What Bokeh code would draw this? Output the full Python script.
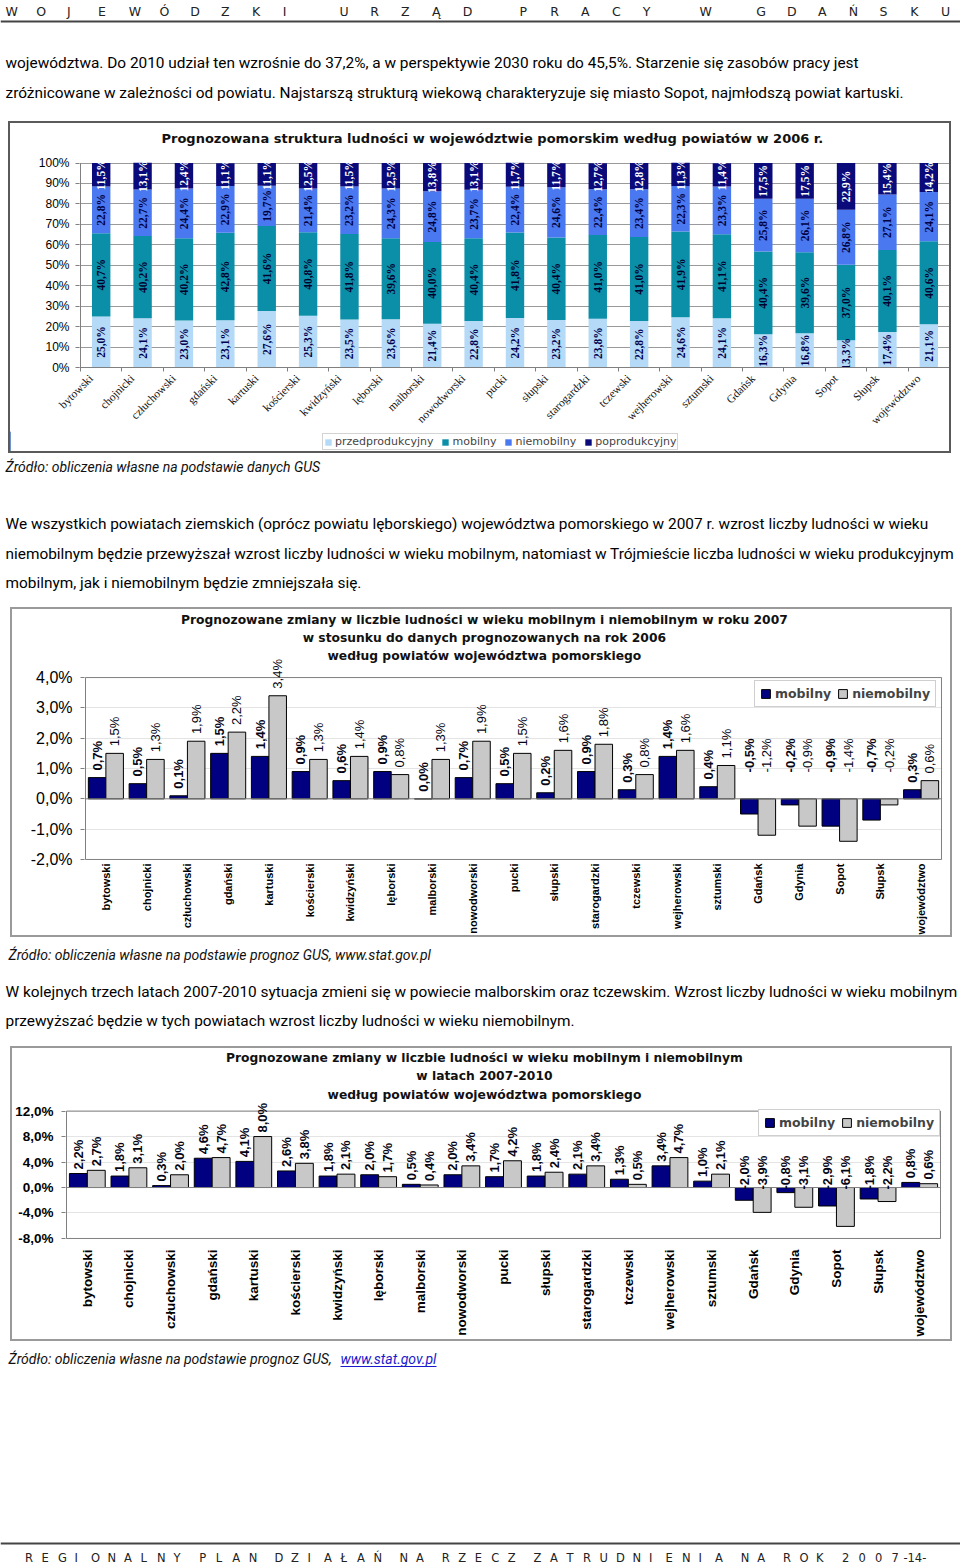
import math
import numpy as np
from bokeh.plotting import figure
from bokeh.models import (Range1d, FixedTicker, ColumnDataSource, LabelSet,
                          Legend, LegendItem)
from bokeh.core.properties import value
from bokeh.embed import file_html
from bokeh.resources import INLINE

PAGE_W = 960

# ---------------- texts ----------------
header_text = "WOJEWÓDZKI URZĄD PRACY W GDAŃSKU"
footer_text = "REGIONALNY PLAN DZIAŁAŃ NA RZECZ ZATRUDNIENIA NA ROK 2007"
footer_page = "-14-"

para1 = [
    "województwa. Do 2010 udział ten wzrośnie do 37,2%, a w perspektywie 2030 roku do 45,5%. Starzenie się zasobów pracy jest",
    "zróżnicowane w zależności od powiatu. Najstarszą strukturą wiekową charakteryzuje się miasto Sopot, najmłodszą powiat kartuski.",
]
para2 = [
    "We wszystkich powiatach ziemskich (oprócz powiatu lęborskiego) województwa pomorskiego w 2007 r. wzrost liczby ludności w wieku",
    "niemobilnym będzie przewyższał wzrost liczby ludności w wieku mobilnym, natomiast w Trójmieście liczba ludności w wieku produkcyjnym",
    "mobilnym, jak i niemobilnym będzie zmniejszała się.",
]
para3 = [
    "W kolejnych trzech latach 2007-2010 sytuacja zmieni się w powiecie malborskim oraz tczewskim. Wzrost liczby ludności w wieku mobilnym",
    "przewyższać będzie w tych powiatach wzrost liczby ludności w wieku niemobilnym.",
]
source1 = "Źródło: obliczenia własne na podstawie danych GUS"
source2 = "Źródło: obliczenia własne na podstawie prognoz GUS, www.stat.gov.pl"
source3_prefix = "Źródło: obliczenia własne na podstawie prognoz GUS,"
source3_link = "www.stat.gov.pl"

title1 = "Prognozowana struktura ludności w województwie pomorskim według powiatów w 2006 r."
title2 = ["Prognozowane zmiany w liczbie ludności w wieku mobilnym i niemobilnym w roku 2007",
          "w stosunku do danych prognozowanych na rok 2006",
          "według powiatów województwa pomorskiego"]
title3 = ["Prognozowane zmiany w liczbie ludności w wieku mobilnym i niemobilnym",
          "w latach 2007-2010",
          "według powiatów województwa pomorskiego"]

# ---------------- data ----------------
categories = ["bytowski", "chojnicki", "człuchowski", "gdański", "kartuski", "kościerski",
              "kwidzyński", "lęborski", "malborski", "nowodworski", "pucki", "słupski",
              "starogardzki", "tczewski", "wejherowski", "sztumski", "Gdańsk", "Gdynia",
              "Sopot", "Słupsk", "województwo"]

series1_names = ["przedprodukcyjny", "mobilny", "niemobilny", "poprodukcyjny"]
przedprodukcyjny = [25.0, 24.1, 23.0, 23.1, 27.6, 25.3, 23.5, 23.6, 21.4, 22.8, 24.2,
                    23.2, 23.8, 22.8, 24.6, 24.1, 16.3, 16.8, 13.3, 17.4, 21.1]
mobilny_2006 = [40.7, 40.2, 40.2, 42.8, 41.6, 40.8, 41.8, 39.6, 40.0, 40.4, 41.8,
                40.4, 41.0, 41.0, 41.9, 41.1, 40.4, 39.6, 37.0, 40.1, 40.6]
niemobilny_2006 = [22.8, 22.7, 24.4, 22.9, 19.7, 21.4, 23.2, 24.3, 24.8, 23.7, 22.4,
                   24.6, 22.4, 23.4, 22.3, 23.3, 25.8, 26.1, 26.8, 27.1, 24.1]
poprodukcyjny = [11.5, 13.1, 12.4, 11.1, 11.1, 12.5, 11.5, 12.5, 13.8, 13.1, 11.7,
                 11.7, 12.7, 12.8, 11.3, 11.4, 17.5, 17.5, 22.9, 15.4, 14.2]

series2_names = ["mobilny", "niemobilny"]
mobilny_2007 = [0.7, 0.5, 0.1, 1.5, 1.4, 0.9, 0.6, 0.9, 0.0, 0.7, 0.5,
                0.2, 0.9, 0.3, 1.4, 0.4, -0.5, -0.2, -0.9, -0.7, 0.3]
niemobilny_2007 = [1.5, 1.3, 1.9, 2.2, 3.4, 1.3, 1.4, 0.8, 1.3, 1.9, 1.5,
                   1.6, 1.8, 0.8, 1.6, 1.1, -1.2, -0.9, -1.4, -0.2, 0.6]

mobilny_2010 = [2.2, 1.8, 0.3, 4.6, 4.1, 2.6, 1.8, 2.0, 0.5, 2.0, 1.7,
                1.8, 2.1, 1.3, 3.4, 1.0, -2.0, -0.8, -2.9, -1.8, 0.8]
niemobilny_2010 = [2.7, 3.1, 2.0, 4.7, 8.0, 3.8, 2.1, 1.7, 0.4, 3.4, 4.2,
                   2.4, 3.4, 0.5, 4.7, 2.1, -3.9, -3.1, -6.1, -2.2, 0.6]

y1_ticks = [0, 10, 20, 30, 40, 50, 60, 70, 80, 90, 100]
y1_labels = ["0%", "10%", "20%", "30%", "40%", "50%", "60%", "70%", "80%", "90%", "100%"]
y2_ticks = [-2, -1, 0, 1, 2, 3, 4]
y2_labels = ["-2,0%", "-1,0%", "0,0%", "1,0%", "2,0%", "3,0%", "4,0%"]
y3_ticks = [-8, -4, 0, 4, 8, 12]
y3_labels = ["-8,0%", "-4,0%", "0,0%", "4,0%", "8,0%", "12,0%"]

NCAT = len(categories)


def fmt(v):
    return f"{v:.1f}".replace(".", ",") + "%"


def box_styles(color, sides):
    st = {"box-sizing": "content-box"}
    for s in ("top", "right", "bottom", "left"):
        st[f"border-{s}"] = f"2px solid {color}" if s in sides else "none"
    return st


# ---------------- helpers ----------------
def text_fig(h):
    p = figure(width=PAGE_W, height=h, x_range=Range1d(0, PAGE_W), y_range=Range1d(h, 0),
               x_axis_type=None, y_axis_type=None, output_backend="svg",
               toolbar_location=None, min_border=0, title=None)
    p.outline_line_color = None
    p.background_fill_color = "white"
    p.border_fill_color = "white"
    return p


def add_text(p, x, y, text, font="Roboto", size="15.4px", style="normal",
             color="#000000", align="left"):
    return p.text(x=[x], y=[y], text=[text], text_font=value(font), text_font_size=size,
                  text_font_style=style, text_color=color, text_align=align,
                  text_baseline="middle")


def spaced(p, s, x0, y, pitch, gap, size, font="DejaVu Sans", color="#222222"):
    xs, chars = [], []
    x = x0
    for ch in s:
        if ch == " ":
            x += gap
            continue
        xs.append(x)
        chars.append(ch)
        x += pitch
    p.text(x=xs, y=[y] * len(xs), text=chars, text_font=value(font), text_font_size=size,
           text_color=color, text_align="left", text_baseline="middle")
    return x


def chart_fig(cw, ch, pa, yr, ft, box_left, styles, expand_bottom=True):
    """cw x ch canvas inside a CSS border; pa = plot area (l, r, t, b) in canvas px."""
    pl, pr, pt, pb = pa
    fl = pl - 1
    fr = pr + 1
    fb = pb + 1 if expand_bottom else pb
    xppu = (pr - pl) / NCAT
    yppu = (pb - pt) / (yr[1] - yr[0])
    x_lo = -0.5 - (pl - fl) / xppu
    x_hi = NCAT - 0.5 + (fr - pr) / xppu
    y_lo = yr[0] - (fb - pb) / yppu
    y_hi = yr[1] + (pt - ft) / yppu
    p = figure(width=cw, height=ch, x_range=Range1d(x_lo, x_hi), y_range=Range1d(y_lo, y_hi),
               min_border_left=fl, min_border_right=cw - fr, min_border_top=ft,
               min_border_bottom=ch - fb, output_backend="svg", toolbar_location=None,
               title=None, margin=(0, 0, 0, box_left), styles=styles)
    p.background_fill_color = "white"
    p.border_fill_color = "white"
    p.outline_line_color = None

    def dx(cx):
        return -0.5 + (cx - pl) / xppu

    def dy(cy):
        return yr[1] - (cy - pt) / yppu

    return p, dx, dy, yppu, fl, fb


def chart_titles(p, dx, dy, cx, ys, lines, size):
    p.text(x=[dx(cx)] * len(lines), y=[dy(v) for v in ys], text=lines,
           text_align="center", text_baseline="middle", text_font=value("DejaVu Sans"),
           text_font_style="bold", text_font_size=size, text_color="#111111")


# ---------------- S1: header + paragraph (page y 0..121) ----------------
s1 = text_fig(121)
spaced(s1, header_text, 5, 11, 30.8, 26, "12.5px")
s1.line(x=[0, PAGE_W], y=[21, 21], line_color="#444444", line_width=2)
add_text(s1, 5, 62, para1[0])
add_text(s1, 5, 92, para1[1])

# ---------------- C1: chart 1 (page y 121..431) + legend strip (431..453) ----------------
BOX1 = "#5a5a5a"
c1, dx1, dy1, ppu1, fl1, fb1 = chart_fig(939, 308, (70, 935, 40, 247), (0, 100), 2, 8,
                                         box_styles(BOX1, ("top", "left", "right")),
                                         expand_bottom=False)
x = np.arange(NCAT)
cols1 = ["#B4DAF7", "#0B8FA8", "#4A78F0", "#0A0A7A"]
lab_cols1 = ["#000050", "#00002E", "#000040", "#FFFFFF"]
vals1 = [przedprodukcyjny, mobilny_2006, niemobilny_2006, poprodukcyjny]
src1 = ColumnDataSource(dict(x=x, s0=przedprodukcyjny, s1=mobilny_2006,
                             s2=niemobilny_2006, s3=poprodukcyjny))
rend1 = c1.vbar_stack(["s0", "s1", "s2", "s3"], x="x", width=0.445, color=cols1,
                      line_color=None, source=src1)
bottom = np.zeros(NCAT)
for vals, lc in zip(vals1, lab_cols1):
    v = np.array(vals)
    mids = bottom + v / 2.0
    c1.text(x=x, y=mids, text=[fmt(a) for a in v], angle=math.pi / 2,
            text_align="center", text_baseline="middle",
            text_font=value("Liberation Serif"), text_font_style="bold",
            text_font_size="11.5px", text_color=lc)
    bottom = bottom + v
c1.segment(x0=[-0.5], y0=[0], x1=[-0.5], y1=[100], line_color="#808080", line_width=1)

c1.yaxis.ticker = FixedTicker(ticks=y1_ticks)
c1.yaxis.major_label_overrides = dict(zip(y1_ticks, y1_labels))
c1.yaxis.major_label_text_font = "Liberation Sans"
c1.yaxis.major_label_text_font_size = "12px"
c1.yaxis.major_label_text_color = "#000000"
c1.yaxis.axis_line_color = None
c1.yaxis.major_tick_line_color = "#808080"
c1.yaxis.major_tick_out = 4
c1.yaxis.major_tick_in = 0
c1.yaxis.major_label_standoff = 6

c1.xaxis.ticker = FixedTicker(ticks=[i - 0.25 for i in range(NCAT)],
                              minor_ticks=[i - 0.5 for i in range(NCAT + 1)])
c1.xaxis.major_label_overrides = {i - 0.25: c for i, c in enumerate(categories)}
c1.xaxis.major_label_orientation = math.pi / 4
c1.xaxis.major_label_text_font = "Liberation Serif"
c1.xaxis.major_label_text_font_size = "11.5px"
c1.xaxis.major_label_text_color = "#111111"
c1.xaxis.major_label_standoff = 5
c1.xaxis.major_tick_line_color = None
c1.xaxis.major_tick_out = 0
c1.xaxis.major_tick_in = 0
c1.xaxis.minor_tick_line_color = "#808080"
c1.xaxis.minor_tick_out = 4
c1.xaxis.minor_tick_in = 0
c1.xaxis.axis_line_color = "#808080"
c1.xgrid.visible = False
c1.ygrid.grid_line_color = "#9a9a9a"
c1.ygrid.ticker = FixedTicker(ticks=y1_ticks[1:])
chart_titles(c1, dx1, dy1, 480, [15], [title1], "13px")

# legend strip, inside the same chart box (key renderers sit outside its visible range)
lg1 = figure(width=939, height=20, x_range=Range1d(0, 1), y_range=Range1d(0, 1),
             x_axis_type=None, y_axis_type=None, output_backend="svg",
             toolbar_location=None, min_border=0, title=None, margin=(0, 0, 0, 8),
             styles=box_styles(BOX1, ("bottom", "left", "right")))
lg1.outline_line_color = None
lg1.background_fill_color = "white"
lg1.border_fill_color = "white"
key_rend = [lg1.vbar(x=[-5], top=[1], width=0.1, fill_color=c, line_color=None)
            for c in cols1]
leg1 = Legend(items=[LegendItem(label=n, renderers=[r]) for n, r in zip(series1_names, key_rend)],
              orientation="horizontal", location=(312, 3),
              label_text_font="DejaVu Sans", label_text_font_size="11px",
              glyph_width=8, glyph_height=8, label_height=10, label_standoff=3,
              spacing=8, padding=1, margin=0, border_line_color="#a8a8a8",
              background_fill_color="white", background_fill_alpha=1)
lg1.add_layout(leg1)

# ---------------- S3: source + paragraph (page y 453..607) ----------------
s3 = text_fig(154)
add_text(s3, 5, 13, source1, style="italic", size="14px", color="#111111")
add_text(s3, 5, 70, para2[0])
add_text(s3, 5, 100, para2[1])
add_text(s3, 5, 129, para2[2])


# ---------------- grouped bar chart helper ----------------
def grouped(cw, ch, pa, yr, ft, mob, niem, yt, ylab, ysize, ystyle, xsize, xstandoff,
            pos_gap, neg_y_px, mob_style, niem_style, tcx, tys, tlines, legend_box):
    p, dx, dy, ppu, fl, fb = chart_fig(cw, ch, pa, yr, ft, 10,
                                       box_styles("#9a9a9a", ("top", "right", "bottom", "left")))
    xs = np.arange(NCAT)
    m = np.array(mob)
    n = np.array(niem)
    p.quad(left=[-0.5], right=[NCAT - 0.5], bottom=[yr[0]], top=[yr[1]],
           fill_color=None, line_color="#808080", line_width=1)
    rm = p.vbar(x=xs - 0.215, top=m, width=0.43, fill_color="#000080",
                line_color="#000000", line_width=1)
    rn = p.vbar(x=xs + 0.215, top=n, width=0.43, fill_color="#C8C8C8",
                line_color="#000000", line_width=1)
    p.segment(x0=[-0.5], y0=[0], x1=[NCAT - 0.5], y1=[0], line_color="#808080",
              line_width=1)
    for off, vals, st in ((-0.215, m, mob_style), (0.215, n, niem_style)):
        ly = np.where(vals >= 0, vals + pos_gap / ppu, neg_y_px / ppu)
        ls = ColumnDataSource(dict(x=xs + off, y=ly, t=[fmt(a) for a in vals]))
        p.add_layout(LabelSet(x="x", y="y", text="t", source=ls, angle=math.pi / 2,
                              text_align="left", text_baseline="middle",
                              text_font=value("Liberation Sans"), text_font_style=st,
                              text_font_size="13px", text_color="#050515"))
    p.yaxis.ticker = FixedTicker(ticks=yt)
    p.yaxis.major_label_overrides = dict(zip(yt, ylab))
    p.yaxis.major_label_text_font = "Liberation Sans"
    p.yaxis.major_label_text_font_size = ysize
    p.yaxis.major_label_text_font_style = ystyle
    p.yaxis.major_label_text_color = "#000000"
    p.yaxis.axis_line_color = None
    p.yaxis.major_tick_line_color = "#808080"
    p.yaxis.major_tick_out = 4
    p.yaxis.major_tick_in = 0
    p.yaxis.major_label_standoff = 8

    p.xaxis.ticker = FixedTicker(ticks=list(range(NCAT)))
    p.xaxis.major_label_overrides = {i: c for i, c in enumerate(categories)}
    p.xaxis.major_label_orientation = math.pi / 2
    p.xaxis.major_label_text_font = "Liberation Sans"
    p.xaxis.major_label_text_font_style = "bold"
    p.xaxis.major_label_text_font_size = xsize
    p.xaxis.major_label_text_color = "#000000"
    p.xaxis.major_label_standoff = xstandoff
    p.xaxis.major_tick_line_color = None
    p.xaxis.major_tick_out = 0
    p.xaxis.major_tick_in = 0
    p.xaxis.axis_line_color = None
    p.xgrid.visible = False
    p.ygrid.grid_line_color = "#e4e4e4"

    lx, lbot = legend_box
    leg = Legend(items=[LegendItem(label=series2_names[0], renderers=[rm]),
                        LegendItem(label=series2_names[1], renderers=[rn])],
                 orientation="horizontal", location=(lx - fl, fb - lbot), margin=0,
                 label_text_font="DejaVu Sans", label_text_font_style="bold",
                 label_text_font_size="12.5px", glyph_width=11, glyph_height=11,
                 label_height=14, label_standoff=4, spacing=6, padding=5,
                 border_line_color="#a0a0a0", background_fill_color="white",
                 background_fill_alpha=1)
    p.add_layout(leg)
    chart_titles(p, dx, dy, tcx, tys, tlines, "12.3px")
    return p


# ---------------- C2: chart 2 (page y 607..937) ----------------
c2 = grouped(938, 326, (73, 925, 67, 246), (-2, 4), 2, mobilny_2007, niemobilny_2007,
             y2_ticks, y2_labels, "16px", "normal", "11px", 3, 7, 26, "bold", "normal",
             470, [10.3, 28.3, 46], title2, (742, 94))

# ---------------- S5: source + paragraph (page y 937..1046) ----------------
s5 = text_fig(109)
add_text(s5, 8, 17, source2, style="italic", size="14px", color="#111111")
add_text(s5, 5, 54, para3[0])
add_text(s5, 5, 83, para3[1])

# ---------------- C3: chart 3 (page y 1046..1341) ----------------
c3 = grouped(938, 291, (53, 924, 61.3, 186), (-8, 12), 2, mobilny_2010, niemobilny_2010,
             y3_ticks, y3_labels, "13.5px", "bold", "13.5px", 10, 4, -2, "bold", "bold",
             469.5, [9.3, 27, 45.3], title3, (745, 84))

# ---------------- S7: source + footer (page y 1341..1565) ----------------
s7 = text_fig(224)
add_text(s7, 8, 17, source3_prefix, style="italic", size="14px", color="#111111")
add_text(s7, 340, 17, source3_link, style="italic", size="14px", color="#1a1acc")
s7.line(x=[340, 436], y=[25, 25], line_color="#1a1acc", line_width=1)
s7.line(x=[0, PAGE_W], y=[202, 202], line_color="#444444", line_width=2)
xend = spaced(s7, footer_text, 24.5, 216, 16.5, 9.3, "11.5px")
add_text(s7, xend - 4.5, 216, footer_page, font="DejaVu Sans", size="11.5px",
         color="#222222")

roots = [s1, c1, lg1, s3, c2, s5, c3, s7]

with open("out.html", "w") as f:
    f.write(file_html(roots, INLINE))
